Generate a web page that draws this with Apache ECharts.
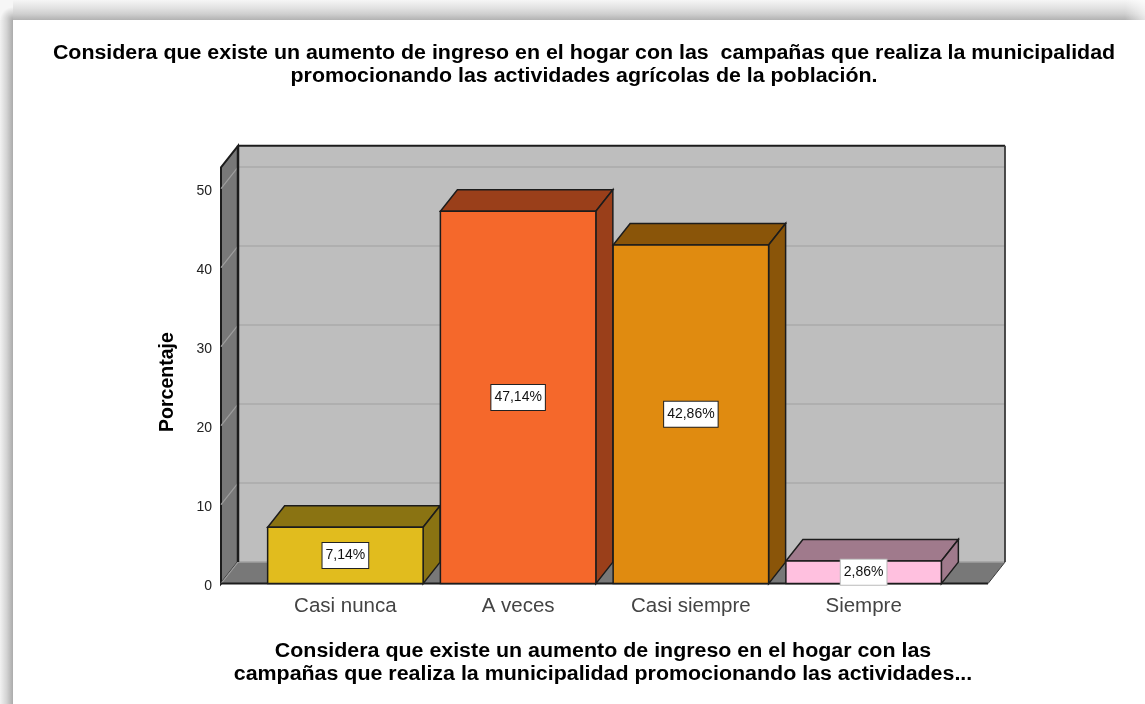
<!DOCTYPE html>
<html><head><meta charset="utf-8">
<style>html,body{margin:0;padding:0;background:#fff}#c{width:1145px;height:704px}</style>
<script src="https://cdn.jsdelivr.net/npm/echarts@6/dist/echarts.min.js"></script>
</head><body><div id="c"></div>
<script>
const categories = ['Casi nunca', 'A veces', 'Casi siempre', 'Siempre'];
const percentages = [7.14, 47.14, 42.86, 2.86];
const valueLabels = ['7,14%', '47,14%', '42,86%', '2,86%'];
const frontColors = ['#E1BC1E', '#F5682B', '#E08B10', '#FFC0DF'];
const shadeColors = ['#8A7312', '#9A3F1A', '#8A5509', '#A07A8C'];
const gridValues = [10, 20, 30, 40, 50];
const titleText = 'Considera que existe un aumento de ingreso en el hogar con las  campañas que realiza la municipalidad\npromocionando las actividades agrícolas de la población.';
const xAxisTitle = 'Considera que existe un aumento de ingreso en el hogar con las\ncampañas que realiza la municipalidad promocionando las actividades...';
const yAxisTitle = 'Porcentaje';

const FONT = '"Liberation Sans", Arial, sans-serif';
const DX = 17, DY = -21.5, WALL_TOP = 52.7, SIDE_PAD = 38, EDGE = '#1c1c1c';
const chart = echarts.init(document.getElementById('c'), null, {renderer: 'canvas'});

function poly(points, fill, stroke, lw, z2) {
  return {type: 'polygon', z2: z2 || 0, shape: {points}, style: {fill, stroke: stroke || null, lineWidth: lw || 0}};
}
function line(a, b, stroke, lw, z2) {
  return {type: 'line', z2: z2 || 0, shape: {x1: a[0], y1: a[1], x2: b[0], y2: b[1]}, style: {stroke, lineWidth: lw}};
}
function renderWalls(params, api) {
  const band = api.size([1, 0])[0];
  const L = api.coord([0, 0])[0] - band / 2 - SIDE_PAD;
  const R = api.coord([categories.length - 1, 0])[0] + band / 2 + SIDE_PAD;
  const y0 = api.coord([0, 0])[1];
  const yT = api.coord([0, WALL_TOP])[1];
  const kids = [];
  kids.push(poly([[L + DX, yT + DY], [R + DX, yT + DY], [R + DX, y0 + DY], [L + DX, y0 + DY]], '#BEBEBE'));
  kids.push(poly([[L, yT], [L + DX, yT + DY], [L + DX, y0 + DY], [L, y0]], '#787878', EDGE, 2));
  kids.push(poly([[L, y0], [L + DX, y0 + DY], [R + DX, y0 + DY], [R, y0]], '#787878'));
  gridValues.forEach(v => {
    const y = api.coord([0, v])[1];
    kids.push(line([L, y], [L + DX, y + DY], '#9E9E9E', 1.2, 1));
    kids.push(line([L + DX, y + DY], [R + DX, y + DY], '#AFAFAF', 2, 1));
  });
  kids.push(line([L, y0], [L + DX, y0 + DY], '#9E9E9E', 1.2, 1));
  kids.push(line([L + DX, y0 + DY], [R + DX, y0 + DY], '#A0A0A0', 1.5, 1));
  kids.push(line([L + DX, yT + DY], [L + DX, y0 + DY], EDGE, 2.5, 2));
  kids.push(line([L + DX, yT + DY], [R + DX, yT + DY], EDGE, 2, 2));
  kids.push(line([R + DX, yT + DY], [R + DX, y0 + DY], '#3a3a3a', 1.8, 2));
  kids.push(line([L, y0], [R, y0], EDGE, 2, 2));
  kids.push(line([R, y0], [R + DX, y0 + DY], '#3a3a3a', 1, 2));
  return {type: 'group', children: kids};
}
function renderBar(params, api) {
  const i = api.value(0), v = api.value(1);
  const c = api.coord([i, v]), b = api.coord([i, 0]);
  const w = api.size([1, 0])[0] * 0.9;
  const l = c[0] - w / 2, r = c[0] + w / 2, t = c[1], f = b[1];
  return {type: 'group', children: [
    poly([[l, t], [r, t], [r + DX, t + DY], [l + DX, t + DY]], shadeColors[i], EDGE, 1.5),
    poly([[r, t], [r + DX, t + DY], [r + DX, f + DY], [r, f]], shadeColors[i], EDGE, 1.5),
    poly([[l, t], [r, t], [r, f], [l, f]], frontColors[i], EDGE, 1.5),
    {type: 'text', z2: 5, x: c[0], y: (t + f) / 2, style: {
      text: valueLabels[i], align: 'center', verticalAlign: 'middle', fontFamily: FONT, fontSize: 14,
      fill: '#111', backgroundColor: '#fff', borderColor: i === 3 ? '#bbb' : '#222', borderWidth: 1,
      padding: [6, 3, 5, 3]
    }}
  ]};
}
chart.setOption({
  animation: false,
  backgroundColor: '#fff',
  grid: {left: 259, width: 691, top: 188.6, height: 395, containLabel: false},
  xAxis: {
    type: 'category', data: categories,
    axisLine: {show: false}, axisTick: {show: false},
    axisLabel: {fontFamily: FONT, fontSize: 20.5, color: '#444', margin: 12}
  },
  yAxis: {
    type: 'value', min: 0, max: 50, interval: 10, offset: SIDE_PAD,
    axisLine: {show: false}, axisTick: {show: false}, splitLine: {show: false},
    axisLabel: {fontFamily: FONT, fontSize: 14, color: '#222', margin: 9, lineHeight: 6, formatter: '\n{value}'},
    name: yAxisTitle, nameLocation: 'middle', nameGap: 43,
    nameTextStyle: {fontFamily: FONT, fontWeight: 'bold', fontSize: 19.5, color: '#000', padding: [0, 0, 0, 8]}
  },
  graphic: [
    {type: 'rect', silent: true, z: -1, shape: {x: 0, y: 0, width: 1145, height: 20},
      style: {fill: new echarts.graphic.LinearGradient(0, 0, 0, 1, [
        {offset: 0, color: '#F6F6F6'}, {offset: 0.4, color: '#E2E2E2'}, {offset: 0.7, color: '#CFCFCF'}, {offset: 1, color: '#B2B2B2'}])}},
    {type: 'rect', silent: true, z: -1, shape: {x: 0, y: 20, width: 13, height: 684},
      style: {fill: new echarts.graphic.LinearGradient(0, 0, 1, 0, [
        {offset: 0, color: '#F2F2F2'}, {offset: 0.5, color: '#D4D4D4'}, {offset: 1, color: '#ABABAB'}])}},
    {type: 'rect', silent: true, z: -1, shape: {x: 0, y: 0, width: 13, height: 20},
      style: {fill: new echarts.graphic.RadialGradient(1, 1, 1, [
        {offset: 0, color: '#ABABAB'}, {offset: 0.5, color: '#D4D4D4'}, {offset: 1, color: '#F6F6F6'}])}},
    {type: 'rect', silent: true, z: -1, shape: {x: 1125, y: 0, width: 20, height: 20},
      style: {fill: new echarts.graphic.LinearGradient(0, 0, 1, 0, [
        {offset: 0, color: 'rgba(255,255,255,0)'}, {offset: 1, color: 'rgba(255,255,255,0.65)'}])}},
    {type: 'text', silent: true, z: 5, x: 584, y: 65, scaleX: 1.069, originX: 0, style: {
      text: titleText, align: 'center', verticalAlign: 'middle', textAlign: 'center', fontFamily: FONT, fontWeight: 'bold',
      fontSize: 20, lineHeight: 23, fill: '#000'}},
    {type: 'text', silent: true, z: 5, x: 603, y: 663, scaleX: 1.07, originX: 0, style: {
      text: xAxisTitle, align: 'center', verticalAlign: 'middle', textAlign: 'center', fontFamily: FONT, fontWeight: 'bold',
      fontSize: 20, lineHeight: 23, fill: '#000'}}
  ],
  series: [
    {type: 'custom', name: 'walls', clip: false, z: 1, silent: true, renderItem: renderWalls, data: [[0, 0]], encode: {x: 0, y: 1}},
    {type: 'custom', name: 'Porcentaje', clip: false, z: 2, renderItem: renderBar,
      data: percentages.map((v, i) => [i, v]), encode: {x: 0, y: 1}}
  ]
});
</script></body></html>
